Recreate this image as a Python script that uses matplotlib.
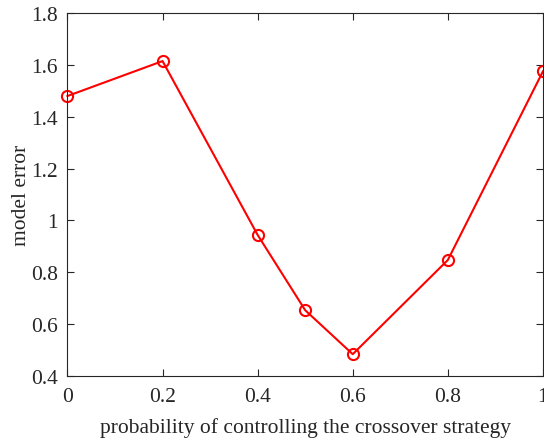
import matplotlib.pyplot as plt

# data
probability = [0, 0.2, 0.4, 0.5, 0.6, 0.8, 1.0]
model_error = [1.481, 1.616, 0.944, 0.653, 0.483, 0.847, 1.576]
x_ticks = [0, 0.2, 0.4, 0.6, 0.8, 1]
x_tick_labels = ["0", "0.2", "0.4", "0.6", "0.8", "1"]
y_ticks = [0.4, 0.6, 0.8, 1.0, 1.2, 1.4, 1.6, 1.8]
y_tick_labels = ["0.4", "0.6", "0.8", "1", "1.2", "1.4", "1.6", "1.8"]

plt.rcParams["font.family"] = ["Liberation Serif", "DejaVu Serif"]

fig = plt.figure(figsize=(5.44, 4.39), dpi=100)
ax = fig.add_axes([0.124, 0.142, 0.874, 0.825])

ax.plot(probability, model_error, color="red", linewidth=1.5,
        marker="o", markersize=8, markerfacecolor="none",
        markeredgecolor="red", markeredgewidth=1.5, clip_on=False)

ax.set_xlim(0, 1)
ax.set_ylim(0.4, 1.8)
ax.set_xticks(x_ticks)
ax.set_xticklabels(x_tick_labels)
ax.set_yticks(y_ticks)
ax.set_yticklabels(y_tick_labels)

ax.tick_params(direction="in", top=True, right=True, length=5,
               width=0.8, labelsize=15.5, colors="#262626")
ax.tick_params(axis="x", pad=8)
ax.tick_params(axis="y", pad=7)
for side in ax.spines.values():
    side.set_linewidth(0.8)
    side.set_color("#262626")

ax.set_xlabel("probability of controlling the crossover strategy",
              fontsize=15.5, color="#262626", labelpad=8)
ax.set_ylabel("model error", fontsize=15.5, color="#262626", labelpad=0)

fig.savefig("out.png", dpi=100)
